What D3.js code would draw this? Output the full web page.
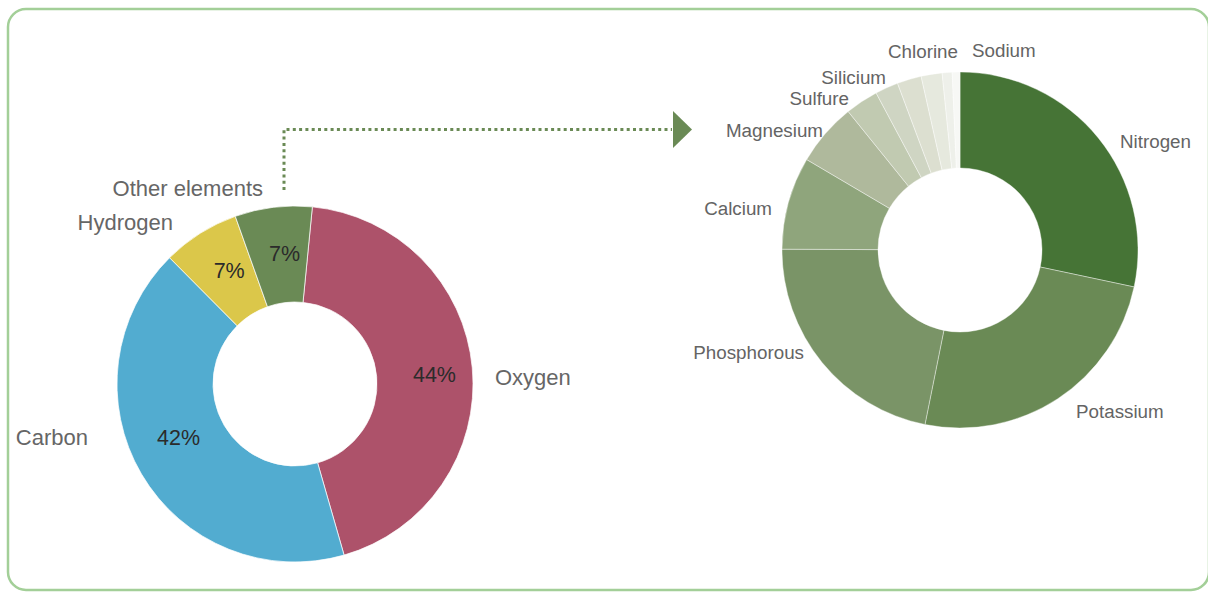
<!DOCTYPE html>
<html><head><meta charset="utf-8">
<script src="https://cdn.jsdelivr.net/npm/d3@7"></script>
<style>
html,body{margin:0;padding:0;background:#fff;}
svg{display:block;font-family:"Liberation Sans",Arial,sans-serif;}
</style></head>
<body><svg id="c" width="1208" height="593"></svg>
<script>
// ---- data ----
const mainCategories = ["Oxygen", "Carbon", "Hydrogen", "Other elements"];
const mainValues = [44, 42, 7, 7];
const mainColors = ["#ad526a", "#52acd0", "#dbc74a", "#6a8a55"];

const otherCategories = ["Nitrogen", "Potassium", "Phosphorous", "Calcium", "Magnesium", "Sulfure", "Silicium", "Chlorine", "", "", "Sodium"];
const otherValues = [28.3, 24.8, 21.9, 8.4, 5.7, 3.0, 2.1, 2.2, 1.9, 0.9, 0.7];
const otherColors = ["#467436", "#6a8a55", "#7a9467", "#8fa57c", "#afb99c", "#c1cab1", "#cfd5c3", "#dcdfd0", "#e6e9de", "#eef0ea", "#f7f8f5"];

// ---- layout ----
const svg = d3.select("#c");
svg.append("rect").attr("x", 8).attr("y", 9).attr("width", 1201).attr("height", 581)
  .attr("rx", 18).attr("fill", "none").attr("stroke", "#a3cf98").attr("stroke-width", 2.5);

const R = 178, r0 = 82;
const deg = Math.PI / 180;

// left donut
const L = {cx: 295, cy: 384};
const pieL = d3.pie().sort(null).value(d => d).startAngle(5.6 * deg).endAngle(5.6 * deg + 2 * Math.PI);
const arcL = d3.arc().innerRadius(r0).outerRadius(R);
const arcsL = pieL(mainValues);
const gL = svg.append("g").attr("transform", `translate(${L.cx},${L.cy})`);
gL.selectAll("path").data(arcsL).join("path")
  .attr("d", arcL).attr("fill", (d, i) => mainColors[i])
  .attr("stroke", "#fff").attr("stroke-width", 0.7);

const pctArc = d3.arc().innerRadius(131).outerRadius(131);
const pctNudge = [[9, 2], [-3.5, -13], [4, -3], [5.5, -1]];
gL.selectAll("text.pct").data(arcsL).join("text").attr("class", "pct")
  .attr("x", (d, i) => pctArc.centroid(d)[0] + pctNudge[i][0])
  .attr("y", (d, i) => pctArc.centroid(d)[1] + pctNudge[i][1])
  .attr("dy", "0.35em").attr("text-anchor", "middle")
  .attr("font-size", 21.5).attr("fill", "#2b2b2b")
  .text(d => d3.format(".0f")(d.value / d3.sum(mainValues) * 100) + "%");

const mainLabelPos = [[200, -7, "start"], [-207, 53, "end"], [-122, -162, "end"], [-32, -196, "end"]];
gL.selectAll("text.lab").data(mainCategories).join("text").attr("class", "lab")
  .attr("x", (d, i) => mainLabelPos[i][0]).attr("y", (d, i) => mainLabelPos[i][1])
  .attr("dy", "0.35em").attr("text-anchor", (d, i) => mainLabelPos[i][2])
  .attr("font-size", 22).attr("fill", "#666").text(d => d);

// connector
const conColor = "#6a8a55";
svg.append("path")
  .attr("d", d3.line()([[284, 190], [284, 129.5], [672, 129.5]]))
  .attr("fill", "none").attr("stroke", conColor).attr("stroke-width", 3)
  .attr("stroke-dasharray", "3,3.3");
svg.append("path").attr("d", d3.line()([[673, 111], [692, 129.5], [673, 148]]) + "Z")
  .attr("fill", conColor);

// right donut
const Rc = {cx: 960, cy: 250};
const pieR = d3.pie().sort(null).value(d => d);
const arcsR = pieR(otherValues);
const gR = svg.append("g").attr("transform", `translate(${Rc.cx},${Rc.cy})`);
gR.selectAll("path").data(arcsR).join("path")
  .attr("d", arcL).attr("fill", (d, i) => otherColors[i])
  .attr("stroke", "#fff").attr("stroke-width", 0.4);

const otherLabelPos = {
  "Nitrogen": [160, -109, "start"], "Potassium": [116, 161, "start"],
  "Phosphorous": [-156, 102, "end"], "Calcium": [-188, -42, "end"],
  "Magnesium": [-137, -120, "end"], "Sulfure": [-111, -152, "end"],
  "Silicium": [-74, -173, "end"], "Chlorine": [-2, -199, "end"],
  "Sodium": [12, -200, "start"]
};
gR.selectAll("text.lab").data(otherCategories.filter(c => c !== "")).join("text").attr("class", "lab")
  .attr("x", d => otherLabelPos[d][0]).attr("y", d => otherLabelPos[d][1])
  .attr("dy", "0.35em").attr("text-anchor", d => otherLabelPos[d][2])
  .attr("font-size", 18.8).attr("fill", "#646464").text(d => d);
</script></body></html>
